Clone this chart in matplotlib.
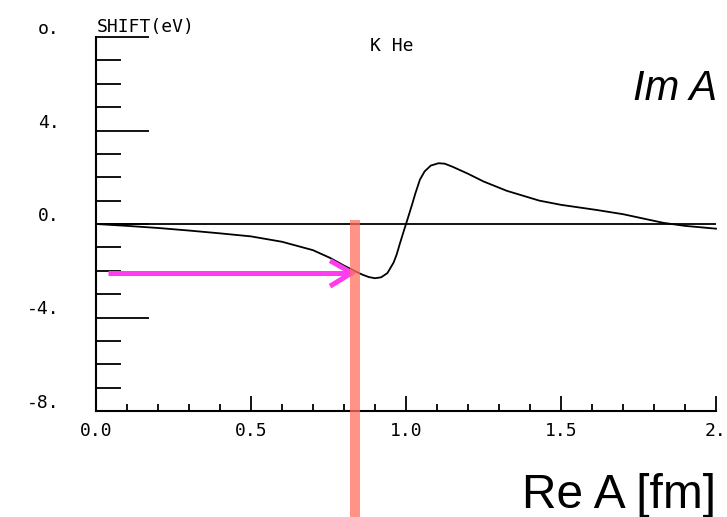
import numpy as np
import matplotlib
matplotlib.use("Agg")
import matplotlib.pyplot as plt
from matplotlib.transforms import ScaledTranslation, blended_transform_factory
from matplotlib.patches import Rectangle

# ---- data ----
re_a = [0.0, 0.1, 0.2, 0.3, 0.4, 0.5, 0.6, 0.7, 0.755, 0.8, 0.84, 0.86, 0.88,
        0.90, 0.92, 0.94, 0.96, 0.97, 0.98, 0.99, 1.0, 1.01, 1.02, 1.03,
        1.045, 1.06, 1.08, 1.105, 1.125, 1.15, 1.2, 1.25, 1.325, 1.43, 1.5,
        1.615, 1.7, 1.83, 1.9, 2.0]
shift_ev = [0.0, -0.08, -0.17, -0.28, -0.40, -0.53, -0.76, -1.12, -1.45,
            -1.78, -2.05, -2.17, -2.27, -2.32, -2.28, -2.10, -1.65, -1.30,
            -0.85, -0.42, 0.0, 0.42, 0.85, 1.30, 1.90, 2.25, 2.50, 2.60, 2.58,
            2.45, 2.15, 1.82, 1.42, 1.00, 0.82, 0.60, 0.42, 0.05, -0.08,
            -0.20]

y_major = [8, 4, 0, -4, -8]
y_major_labels = ["o.", "4.", "0.", "-4.", "-8."]
y_minor = list(range(-8, 9))
x_major = [0.0, 0.5, 1.0, 1.5, 2.0]
x_major_labels = ["0.0", "0.5", "1.0", "1.5", "2."]
x_minor = [i / 10 for i in range(0, 21)]

marker_re = 0.835          # vertical highlight bar position
marker_top = 0.17
arrow_shift = -2.09        # horizontal arrow level
arrow_start = 0.04

W, H, DPI = 727, 517, 100
fig = plt.figure(figsize=(W / DPI, H / DPI), dpi=DPI)
fig.patch.set_facecolor("white")

def px(x, y):
    return x / W, 1 - y / H

ax = fig.add_axes([96 / W, (H - 411) / H, 620 / W, 374 / H])
ax.set_xlim(0, 2.0)
ax.set_ylim(-8, 8)
ax.set_facecolor("none")

mono = "DejaVu Sans Mono"
fs = 13

for s in ["top", "right"]:
    ax.spines[s].set_visible(False)
for s in ["left", "bottom"]:
    ax.spines[s].set_linewidth(1.5)

ax.set_yticks(y_major)
ax.set_yticklabels(y_major_labels, fontsize=fs, family=mono)
ax.set_yticks(y_minor, minor=True)
ax.tick_params(axis="y", which="major", direction="in", length=38, width=1.3,
               pad=26)
ax.tick_params(axis="y", which="minor", direction="in", length=18, width=1.3)
off = ScaledTranslation(0, 10 / DPI, fig.dpi_scale_trans)
for lab in ax.get_yticklabels():
    lab.set_transform(lab.get_transform() + off)

ax.set_xticks(x_major)
ax.set_xticklabels(x_major_labels, fontsize=fs, family=mono)
ax.set_xticks(x_minor, minor=True)
ax.tick_params(axis="x", which="major", direction="in", length=11, width=1.3,
               pad=8)
ax.tick_params(axis="x", which="minor", direction="in", length=5, width=1.3)

# zero line and curve
ax.axhline(0, color="black", lw=1.3, zorder=2)
ax.plot(re_a, shift_ev, color="black", lw=1.3, zorder=3, clip_on=False,
        solid_joinstyle="round")

# highlight bar (semi-transparent salmon), from marker_top down to figure bottom
top_fig = fig.transFigure.inverted().transform(
    ax.transData.transform((marker_re, marker_top)))[1]
bar_w = 0.034
tr = blended_transform_factory(ax.transData, fig.transFigure)
bar = Rectangle((marker_re - bar_w / 2, -0.01), bar_w, top_fig + 0.01,
                transform=tr, facecolor="#ff6f5e", alpha=0.75,
                edgecolor="none", clip_on=False, zorder=4)
fig.add_artist(bar)

# magenta arrow
mag = "#ff3cf0"
tip = marker_re - 0.01
ax.plot([arrow_start, tip], [arrow_shift, arrow_shift], color=mag, lw=3.6,
        solid_capstyle="butt", zorder=5, clip_on=False)
ax.plot([tip - 0.07, tip, tip - 0.07],
        [arrow_shift + 0.52, arrow_shift, arrow_shift - 0.57],
        color=mag, lw=3.6, solid_capstyle="butt", solid_joinstyle="miter",
        zorder=5, clip_on=False)

# texts
fig.text(*px(97, 27), "SHIFT(eV)", fontsize=fs, family=mono, ha="left",
         va="center")
fig.text(*px(370, 46), "K He", fontsize=fs, family=mono, ha="left",
         va="center")
fig.text(*px(633, 100), "Im A", fontsize=30, family="Liberation Sans",
         style="italic", ha="left", va="baseline")
fig.text(*px(522, 508), "Re A [fm]", fontsize=34.5, family="Liberation Sans",
         ha="left", va="baseline")

fig.savefig("out.png", dpi=DPI)
